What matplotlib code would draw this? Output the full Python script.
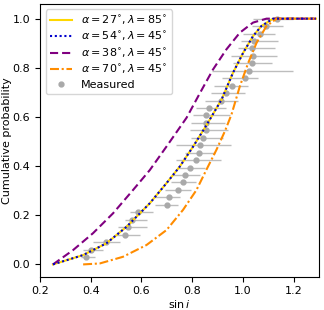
import numpy as np
import matplotlib
matplotlib.use("Agg")
import matplotlib.pyplot as plt

# Model curves
yel_x = [0.251, 0.370, 0.462, 0.541, 0.633, 0.699, 0.751, 0.804, 0.856, 0.916, 0.961, 1.001, 1.040, 1.073, 1.119, 1.20, 1.288]
yel_y = [0.0, 0.038, 0.086, 0.153, 0.249, 0.331, 0.398, 0.480, 0.566, 0.671, 0.780, 0.861, 0.929, 0.970, 1.0, 1.0, 1.0]

blu_x = [0.251, 0.370, 0.462, 0.541, 0.633, 0.699, 0.751, 0.804, 0.856, 0.916, 0.961, 1.001, 1.040, 1.073, 1.119, 1.20, 1.288]
blu_y = [0.0, 0.038, 0.086, 0.153, 0.249, 0.331, 0.398, 0.480, 0.566, 0.671, 0.780, 0.861, 0.929, 0.970, 1.0, 1.0, 1.0]

pur_x = [0.251, 0.330, 0.409, 0.488, 0.567, 0.633, 0.699, 0.778, 0.831, 0.882, 0.935, 0.988, 1.040, 1.093, 1.20, 1.288]
pur_y = [0.0, 0.058, 0.127, 0.208, 0.303, 0.384, 0.480, 0.597, 0.698, 0.793, 0.875, 0.943, 0.984, 1.0, 1.0, 1.0]

ora_x = [0.370, 0.436, 0.527, 0.620, 0.699, 0.764, 0.817, 0.856, 0.896, 0.929, 0.955, 0.988, 1.021, 1.054, 1.093, 1.133, 1.20, 1.288]
ora_y = [0.0, 0.004, 0.031, 0.079, 0.140, 0.222, 0.303, 0.385, 0.467, 0.542, 0.610, 0.725, 0.820, 0.902, 0.970, 1.0, 1.0, 1.0]

labels = [r'$\alpha=27^{\circ},\lambda=85^{\circ}$',
          r'$\alpha=54^{\circ},\lambda=45^{\circ}$',
          r'$\alpha=38^{\circ},\lambda=45^{\circ}$',
          r'$\alpha=70^{\circ},\lambda=45^{\circ}$',
          'Measured']

# Measured points
meas_x = [0.383, 0.403, 0.462, 0.534, 0.546, 0.561, 0.587, 0.699, 0.709, 0.744, 0.764,
          0.771, 0.791, 0.817, 0.827, 0.830, 0.842, 0.854, 0.854, 0.856, 0.865, 0.913,
          0.933, 0.956, 1.009, 1.023, 1.036, 1.038, 1.036, 1.043, 1.067, 1.090, 1.135]
meas_lo = [0.363, 0.370, 0.409, 0.495, 0.508, 0.534, 0.554, 0.652, 0.652, 0.692, 0.718,
           0.725, 0.744, 0.738, 0.771, 0.735, 0.797, 0.791, 0.797, 0.804, 0.817, 0.850,
           0.876, 0.885, 0.916, 0.880, 0.961, 0.955, 0.981, 0.994, 1.001, 1.034, 1.040]
meas_hi = [0.416, 0.449, 0.514, 0.593, 0.620, 0.620, 0.646, 0.743, 0.751, 0.797, 0.817,
           0.830, 0.850, 0.912, 0.889, 0.955, 0.922, 0.942, 0.929, 0.948, 0.935, 0.981,
           1.007, 1.021, 1.060, 1.198, 1.113, 1.135, 1.126, 1.139, 1.126, 1.159, 1.198]
meas_y = [(k + 1) / 33 for k in range(33)]

plt.rcParams['font.size'] = 8
fig = plt.figure(figsize=(3.24, 3.10), dpi=100)
ax = fig.add_axes([0.1235, 0.1074, 0.861, 0.880])

lw = 1.5
ax.plot(yel_x, yel_y, color='gold', lw=lw, ls='-', label=labels[0], zorder=3)
ax.plot(blu_x, blu_y, color='mediumblue', lw=lw, ls=(0, (1, 1.3)), label=labels[1], zorder=4)
ax.plot(pur_x, pur_y, color='purple', lw=lw, ls=(0, (3.9, 1.9)), label=labels[2], zorder=3)
ax.plot(ora_x, ora_y, color='darkorange', lw=lw, ls=(0, (4.3, 1.3, 1, 1.3)), label=labels[3], zorder=3)

mx = np.array(meas_x)
xerr = [mx - np.array(meas_lo), np.array(meas_hi) - mx]
ax.errorbar(mx, meas_y, xerr=xerr, fmt='none', ecolor='#bdbdbd', elinewidth=1,
            capsize=0, zorder=2)
ax.plot(mx, meas_y, 'o', color='#a9a9a9', ms=3.5, ls='none', label=labels[4], zorder=2)

ax.set_xlim(0.2, 1.3)
ax.set_ylim(-0.05, 1.06)
ax.set_xticks([0.2, 0.4, 0.6, 0.8, 1.0, 1.2])
ax.set_yticks([0.0, 0.2, 0.4, 0.6, 0.8, 1.0])
ax.set_xlabel(r'$\sin i$', labelpad=1)
ax.set_ylabel('Cumulative probability', labelpad=0.5)
ax.legend(loc='upper left', labelspacing=0.3)

fig.savefig('out.png', dpi=100)
